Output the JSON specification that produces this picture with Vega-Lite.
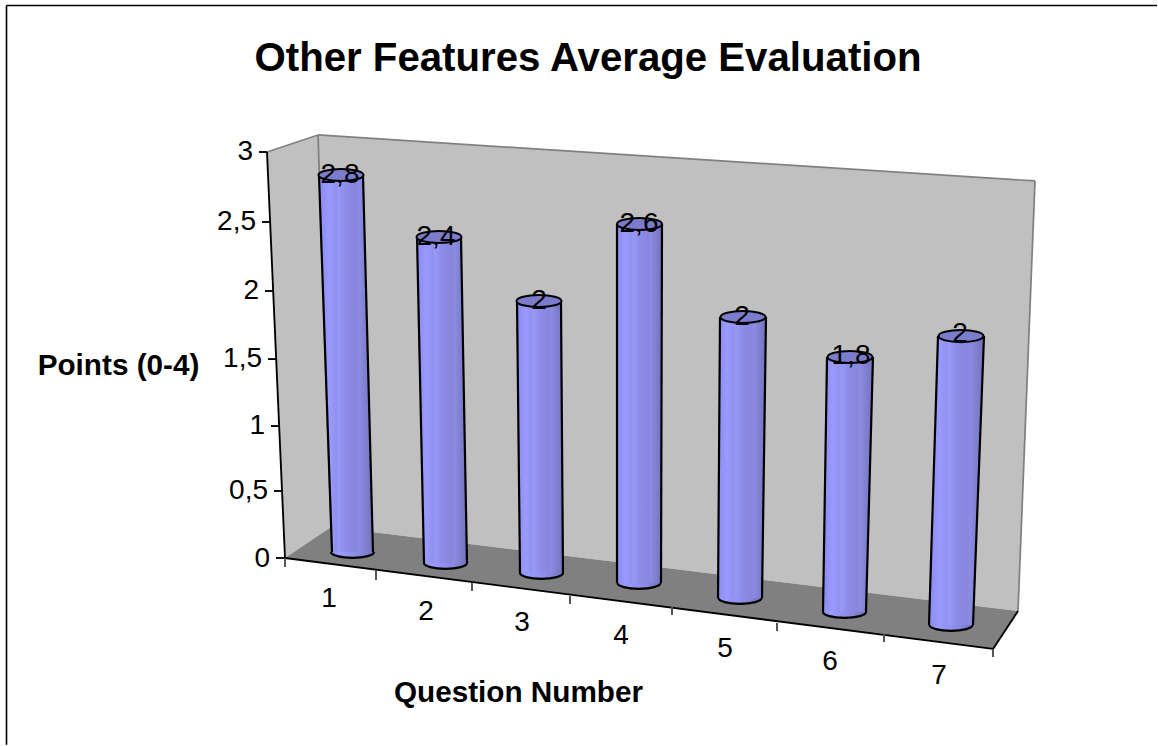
{
"$schema":"https://vega.github.io/schema/vega-lite/v6.json",
"width":1158,"height":746,
"autosize":{"type":"fit","contains":"padding"},
"padding":0,
"background":"#ffffff",
"view":{"stroke":null},
"config":{
"axis":{"labels":false,"ticks":false,"domain":false,"grid":false,"titleFont":"Liberation Sans","titleFontSize":29.7,"titleFontWeight":"bold","titleColor":"#000000","titleBaseline":"middle","titleAlign":"center"},
"axisX":{"titleX":518,"titleY":-54},
"axisY":{"titleX":118,"titleY":365,"titleAngle":0}
},
"title":{"text":"Other Features Average Evaluation","anchor":"middle","frame":"group","offset":-79,"dx":9,"font":"Liberation Sans","fontSize":40.2,"fontWeight":"bold","color":"#000000"},
"datasets":{
"planes":[
{"plane":"side","x":0.67,"upper":3,"lower":3},
{"plane":"side","x":0.85,"upper":3.044,"lower":0},
{"plane":"side","x":1.18,"upper":3.126,"lower":0.164},
{"plane":"side","x":1.31,"upper":0.229,"lower":0.229},
{"plane":"wall","x":1.18,"upper":3.126,"lower":3.126},
{"plane":"wall","x":1.31,"upper":3.12,"lower":0.229},
{"plane":"wall","x":8.18,"upper":2.794,"lower":-0.392},
{"plane":"wall","x":8.35,"upper":2.786,"lower":2.786},
{"plane":"floor","x":0.85,"upper":0,"lower":0},
{"plane":"floor","x":1.31,"upper":0.229,"lower":-0.044},
{"plane":"floor","x":7.93,"upper":-0.369,"lower":-0.672},
{"plane":"floor","x":8.18,"upper":-0.392,"lower":-0.392}
],
"edges":[
{"kind":"frame","x":-1.935,"x2":9.57,"y":4.0826,"y2":4.0826},
{"kind":"frame","x":-1.935,"x2":-1.935,"y":4.0826,"y2":-1.38},
{"kind":"wall","x":0.67,"x2":1.18,"y":3,"y2":3.126},
{"kind":"wall","x":1.18,"x2":8.35,"y":3.126,"y2":2.786},
{"kind":"wall","x":1.18,"x2":1.31,"y":3.126,"y2":0.229},
{"kind":"wall","x":8.35,"x2":8.18,"y":2.786,"y2":-0.392},
{"kind":"axis","x":0.67,"x2":0.85,"y":3,"y2":0},
{"kind":"axis","x":0.85,"x2":7.93,"y":0,"y2":-0.672},
{"kind":"axis","x":7.93,"x2":8.18,"y":-0.672,"y2":-0.392},
{"kind":"axis","x":0.59,"x2":0.67,"y":3,"y2":3},
{"kind":"axis","x":0.62,"x2":0.7,"y":2.483,"y2":2.483},
{"kind":"axis","x":0.65,"x2":0.73,"y":1.973,"y2":1.973},
{"kind":"axis","x":0.68,"x2":0.76,"y":1.47,"y2":1.47},
{"kind":"axis","x":0.71,"x2":0.79,"y":0.975,"y2":0.975},
{"kind":"axis","x":0.74,"x2":0.82,"y":0.495,"y2":0.495},
{"kind":"axis","x":0.76,"x2":0.85,"y":0,"y2":0},
{"kind":"tick","x":0.85,"x2":0.85,"y":0,"y2":-0.0665},
{"kind":"tick","x":1.76,"x2":1.76,"y":-0.0887,"y2":-0.1626},
{"kind":"tick","x":2.72,"x2":2.72,"y":-0.1847,"y2":-0.2438},
{"kind":"tick","x":3.7,"x2":3.7,"y":-0.2808,"y2":-0.3399},
{"kind":"tick","x":4.72,"x2":4.72,"y":-0.362,"y2":-0.421},
{"kind":"tick","x":5.77,"x2":5.77,"y":-0.48,"y2":-0.539},
{"kind":"tick","x":6.84,"x2":6.84,"y":-0.562,"y2":-0.621},
{"kind":"tick","x":7.93,"x2":7.93,"y":-0.672,"y2":-0.732}
],
"cylinders":[
{"question":1,"level":2.83,"left":1.19,"right":1.63},
{"question":1,"level":0.044,"left":1.32,"right":1.73},
{"question":2,"level":2.372,"left":2.17,"right":2.61},
{"question":2,"level":-0.037,"left":2.24,"right":2.67},
{"question":3,"level":1.899,"left":3.17,"right":3.61},
{"question":3,"level":-0.111,"left":3.2,"right":3.63},
{"question":4,"level":2.468,"left":4.17,"right":4.62},
{"question":4,"level":-0.185,"left":4.17,"right":4.61},
{"question":5,"level":1.781,"left":5.2,"right":5.66},
{"question":5,"level":-0.296,"left":5.18,"right":5.62},
{"question":6,"level":1.485,"left":6.27,"right":6.73},
{"question":6,"level":-0.399,"left":6.23,"right":6.66},
{"question":7,"level":1.64,"left":7.38,"right":7.84},
{"question":7,"level":-0.495,"left":7.29,"right":7.73}
],
"bars":[
{"question":1,"value":2.8,"label":"2,8","topX":1.41,"topY":2.83,"baseX":1.525,"baseY":0.044,"labelX":1.4,"labelY":2.83,"tickX":1.29,"tickY":-0.303},
{"question":2,"value":2.4,"label":"2,4","topX":2.39,"topY":2.372,"baseX":2.455,"baseY":-0.037,"labelX":2.36,"labelY":2.372,"tickX":2.26,"tickY":-0.399},
{"question":3,"value":2,"label":"2","topX":3.39,"topY":1.899,"baseX":3.415,"baseY":-0.111,"labelX":3.39,"labelY":1.899,"tickX":3.22,"tickY":-0.48},
{"question":4,"value":2.6,"label":"2,6","topX":4.395,"topY":2.468,"baseX":4.39,"baseY":-0.185,"labelX":4.39,"labelY":2.468,"tickX":4.21,"tickY":-0.576},
{"question":5,"value":2,"label":"2","topX":5.43,"topY":1.781,"baseX":5.4,"baseY":-0.296,"labelX":5.42,"labelY":1.781,"tickX":5.25,"tickY":-0.672},
{"question":6,"value":1.8,"label":"1,8","topX":6.5,"topY":1.485,"baseX":6.445,"baseY":-0.399,"labelX":6.51,"labelY":1.493,"tickX":6.3,"tickY":-0.768},
{"question":7,"value":2,"label":"2","topX":7.61,"topY":1.64,"baseX":7.51,"baseY":-0.495,"labelX":7.6,"labelY":1.655,"tickX":7.39,"tickY":-0.872}
],
"pointTicks":[
{"label":"3","x":0.53,"y":3},
{"label":"2,5","x":0.56,"y":2.483},
{"label":"2","x":0.59,"y":1.973},
{"label":"1,5","x":0.62,"y":1.47},
{"label":"1","x":0.65,"y":0.975},
{"label":"0,5","x":0.68,"y":0.495},
{"label":"0","x":0.7,"y":-0.007}
]
},
"layer":[
{"data":{"name":"planes"},"transform":[{"filter":"datum.plane === 'side'"}],
"mark":{"type":"area","orient":"vertical","color":"#c0c0c0"},
"encoding":{
"x":{"field":"x","type":"quantitative","title":"Question Number","scale":{"domain":[-2,9.58],"nice":false,"zero":false}},
"y":{"field":"upper","type":"quantitative","title":"Points (0-4)","scale":{"domain":[-1.3892,4.1232],"nice":false,"zero":false}},
"y2":{"field":"lower"}
}},
{"data":{"name":"planes"},"transform":[{"filter":"datum.plane === 'wall'"}],
"mark":{"type":"area","orient":"vertical","color":"#c0c0c0"},
"encoding":{
"x":{"field":"x","type":"quantitative","title":"Question Number"},
"y":{"field":"upper","type":"quantitative","title":"Points (0-4)"},
"y2":{"field":"lower"}
}},
{"data":{"name":"planes"},"transform":[{"filter":"datum.plane === 'floor'"}],
"mark":{"type":"area","orient":"vertical","color":"#808080"},
"encoding":{
"x":{"field":"x","type":"quantitative","title":"Question Number"},
"y":{"field":"upper","type":"quantitative","title":"Points (0-4)"},
"y2":{"field":"lower"}
}},
{"data":{"name":"edges"},
"mark":{"type":"rule"},
"encoding":{
"x":{"field":"x","type":"quantitative","title":"Question Number"},
"x2":{"field":"x2"},
"y":{"field":"y","type":"quantitative","title":"Points (0-4)"},
"y2":{"field":"y2"},
"color":{"field":"kind","type":"nominal","legend":null,"scale":{"domain":["frame","wall","axis","tick"],"range":["#000000","#808080","#000000","#555555"]}},
"strokeWidth":{"field":"kind","type":"nominal","legend":null,"scale":{"domain":["frame","wall","axis","tick"],"range":[1.6,2,1.3,1]}}
}},
{"data":{"name":"bars"},
"mark":{"type":"point","filled":true,"size":1849,"shape":"M-1,0A1,0.27,0,0,0,1,0","opacity":1,"stroke":"#000000","strokeWidth":2.2,"fill":{"gradient":"linear","x1":0,"y1":0,"x2":1,"y2":0,"stops":[{"offset":0,"color":"#8a8af0"},{"offset":0.2,"color":"#9a9aff"},{"offset":0.7,"color":"#8888e0"},{"offset":1,"color":"#7272bc"}]}},
"encoding":{
"x":{"field":"baseX","type":"quantitative","title":"Question Number"},
"y":{"field":"baseY","type":"quantitative","title":"Points (0-4)"}
}},
{"data":{"name":"cylinders"},
"mark":{"type":"area","orient":"horizontal","stroke":null,"fill":{"gradient":"linear","x1":0,"y1":0,"x2":1,"y2":0,"stops":[{"offset":0,"color":"#8a8af0"},{"offset":0.2,"color":"#9a9aff"},{"offset":0.32,"color":"#9090ee"},{"offset":0.36,"color":"#9898f6"},{"offset":0.5,"color":"#8c8ce8"},{"offset":0.7,"color":"#8686dc"},{"offset":0.74,"color":"#8c8ce2"},{"offset":1,"color":"#7272bc"}]}},
"encoding":{
"x":{"field":"left","type":"quantitative","title":"Question Number"},
"x2":{"field":"right"},
"y":{"field":"level","type":"quantitative","title":"Points (0-4)"},
"detail":{"field":"question"}
}},
{"data":{"name":"cylinders"},
"mark":{"type":"line","color":"#000000","strokeWidth":2.2},
"encoding":{
"x":{"field":"left","type":"quantitative","title":"Question Number"},
"y":{"field":"level","type":"quantitative","title":"Points (0-4)"},
"detail":{"field":"question"}
}},
{"data":{"name":"cylinders"},
"mark":{"type":"line","color":"#000000","strokeWidth":2.2},
"encoding":{
"x":{"field":"right","type":"quantitative","title":"Question Number"},
"y":{"field":"level","type":"quantitative","title":"Points (0-4)"},
"detail":{"field":"question"}
}},
{"data":{"name":"bars"},
"mark":{"type":"point","filled":true,"size":2025,"shape":"M-1,0A1,0.27,0,1,1,1,0A1,0.27,0,1,1,-1,0Z","opacity":1,"fill":"#7c7ccc","stroke":"#000000","strokeWidth":2},
"encoding":{
"x":{"field":"topX","type":"quantitative","title":"Question Number"},
"y":{"field":"topY","type":"quantitative","title":"Points (0-4)"}
}},
{"data":{"name":"bars"},
"mark":{"type":"text","font":"Liberation Sans","fontSize":28,"baseline":"middle","align":"center","color":"#000000"},
"encoding":{
"x":{"field":"labelX","type":"quantitative","title":"Question Number"},
"y":{"field":"labelY","type":"quantitative","title":"Points (0-4)"},
"text":{"field":"label"}
}},
{"data":{"name":"bars"},
"mark":{"type":"text","font":"Liberation Sans","fontSize":28,"baseline":"middle","align":"center","color":"#000000"},
"encoding":{
"x":{"field":"tickX","type":"quantitative","title":"Question Number"},
"y":{"field":"tickY","type":"quantitative","title":"Points (0-4)"},
"text":{"field":"question"}
}},
{"data":{"name":"pointTicks"},
"mark":{"type":"text","font":"Liberation Sans","fontSize":28,"baseline":"middle","align":"right","color":"#000000"},
"encoding":{
"x":{"field":"x","type":"quantitative","title":"Question Number"},
"y":{"field":"y","type":"quantitative","title":"Points (0-4)"},
"text":{"field":"label"}
}}
]
}
